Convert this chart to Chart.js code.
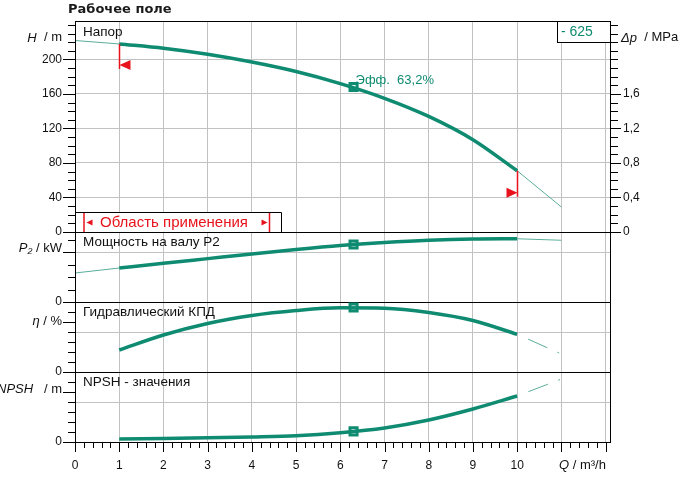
<!DOCTYPE html>
<html>
<head>
<meta charset="utf-8">
<script src="https://cdn.jsdelivr.net/npm/chart.js@4.4.1/dist/chart.umd.min.js"></script>
<style>
  body { margin: 0; background: #fff; }
  canvas { display: block; }
</style>
</head>
<body>
<canvas id="chart" width="684" height="487"></canvas>
<script>
// Pump performance curves, Q in m³/h
const qWork = [1, 2, 3, 4, 5, 6, 7, 8, 9, 10]
const headWork = [218, 213, 206, 197, 186, 172, 155, 134, 107, 71]
const qStart = [0, 1]
const headStart = [222, 218]
const qEnd = [10, 11]
const headEnd = [71, 29]

const powerWork = [2.72, 3.1, 3.47, 3.84, 4.2, 4.52, 4.76, 4.94, 5.04, 5.06]
const powerStart = [2.32, 2.72]
const powerEnd = [5.06, 4.94]

const effWork = [22, 37, 48.5, 56.5, 61.5, 64.2, 63.8, 59.5, 51.5, 37.7]
const effEnd = [37.7, 18]

const npshWork = [0.3, 0.36, 0.42, 0.5, 0.62, 0.92, 1.4, 2.2, 3.3, 4.6]
const npshEnd = [4.6, 6.3]

// best efficiency point
const bepQ = 6.3
const bepHead = 168
const bepPower = 4.6
const bepEff = 64.5
const bepNpsh = 1.06
const bepText = 'Эфф.  63,2%'

const rangeQ = [1, 10]
const pumpTag = '- 625'

const qLabels = [0, 1, 2, 3, 4, 5, 6, 7, 8, 9, 10]
const headLabels = [0, 40, 80, 120, 160, 200]
const dpLabels = [0, 0.4, 0.8, 1.2, 1.6]

const GREEN = '#0f8b71'
const THIN = '#5aae9b'
const RED = '#e8121c'
const GRID = '#c2c2c2'
const FONT = '"Liberation Sans", Arial, sans-serif'

const pts = (xs, ys) => xs.map((x, i) => ({ x: x, y: ys[i] }))
const near = (list, v) => list.some((a) => Math.abs(a - v) < 1e-6)

function makeTicks(max, step) {
  const out = []
  for (let i = 0; i * step <= max + 1e-9; i++) {
    out.push({ value: Math.round(i * step * 1000) / 1000 })
  }
  return out
}

function thick(data, axis) {
  return {
    data: data, yAxisID: axis, borderColor: GREEN, borderWidth: 3.5,
    pointRadius: 0, cubicInterpolationMode: 'monotone', fill: false,
  }
}
function thin(data, axis, dash) {
  return {
    data: data, yAxisID: axis, borderColor: THIN, borderWidth: 1,
    pointRadius: 0, borderDash: dash || [], fill: false,
  }
}
function bep(y, axis) {
  return {
    data: [{ x: bepQ, y: y }], yAxisID: axis, showLine: false,
    pointStyle: 'rect', pointRadius: 5, borderWidth: 3,
    pointBorderColor: GREEN, pointBackgroundColor: '#fff',
  }
}

const brokenDash = [0, 12, 21, 11, 2, 200]

function yAxis(max, step, weight, labelVals, gridVals) {
  return {
    type: 'linear', position: 'left', stack: 'left', stackWeight: weight,
    min: 0, max: max,
    afterFit: (s) => { s.width = 75 },
    afterBuildTicks: (s) => { s.ticks = makeTicks(max, step) },
    border: { color: '#000' },
    grid: {
      drawTicks: false,
      color: (c) => c.tick.value === 0 ? '#000' : (near(gridVals, c.tick.value) ? GRID : 'rgba(0,0,0,0)'),
    },
    ticks: {
      autoSkip: false, padding: 13, color: '#111', font: { family: FONT, size: 12 },
      callback: (v) => near(labelVals, v) ? String(v) : '',
    },
  }
}

// tick marks, unit labels and the other decorations
const decor = {
  id: 'decor',
  afterDraw(chart) {
    const ctx = chart.ctx
    const a = chart.chartArea
    const s = chart.scales
    ctx.save()
    ctx.strokeStyle = '#000'
    ctx.lineWidth = 1

    function tickMarks(scale, longVals, longLen, shortLen, side) {
      scale.ticks.forEach((t) => {
        const len = near(longVals, t.value) ? longLen : shortLen
        const p = Math.round(scale.getPixelForValue(t.value)) + 0.5
        ctx.beginPath()
        if (side === 'left') { ctx.moveTo(scale.right - len, p); ctx.lineTo(scale.right, p) }
        if (side === 'right') { ctx.moveTo(scale.left, p); ctx.lineTo(scale.left + len, p) }
        if (side === 'bottom') { ctx.moveTo(p, scale.top); ctx.lineTo(p, scale.top + len) }
        ctx.stroke()
      })
    }
    tickMarks(s.yH, headLabels, 12, 7, 'left')
    tickMarks(s.yP, [0, 4], 12, 7, 'left')
    tickMarks(s.yE, [0, 50], 12, 7, 'left')
    tickMarks(s.yN, [0, 5], 12, 7, 'left')
    tickMarks(s.yDp, dpLabels, 11, 8, 'right')
    tickMarks(s.x, [0, 1, 2, 3, 4, 5, 6, 7, 8, 9, 10, 11, 12], 10, 6, 'bottom')

    ctx.strokeRect(Math.round(a.left) + 0.5, Math.round(a.top) + 0.5, Math.round(a.right - a.left), Math.round(a.bottom - a.top))

    function mixed(parts, x, y, align) {
      const w = parts.map(([t, it]) => {
        ctx.font = (it ? 'italic ' : '') + '13px ' + FONT
        return ctx.measureText(t).width
      })
      let cx = align === 'right' ? x - w.reduce((m, n) => m + n, 0) : x
      ctx.textAlign = 'left'
      ctx.textBaseline = 'middle'
      ctx.fillStyle = '#111'
      parts.forEach(([t, it], i) => {
        ctx.font = (it ? 'italic ' : '') + '13px ' + FONT
        ctx.fillText(t, cx, y)
        cx += w[i]
      })
    }
    mixed([['H', true], ['  / m', false]], 62, s.yH.getPixelForValue(225), 'right')
    mixed([['Δp', true], ['  / MPa', false]], 621, s.yDp.getPixelForValue(2.25), 'left')
    mixed([['P₂', true], [' / kW', false]], 62, s.yP.getPixelForValue(4.28), 'right')
    mixed([['η', true], [' / %', false]], 62, s.yE.getPixelForValue(51), 'right')
    mixed([['NPSH', true], ['   / m', false]], 62, s.yN.getPixelForValue(5.3), 'right')
    mixed([['Q', true], [' / m³/h', false]], 559, 465, 'left')

    // panel captions
    ctx.font = '13.5px ' + FONT
    ctx.fillStyle = '#111'
    ctx.textBaseline = 'middle'
    ctx.fillText('Напор', a.left + 8, s.yH.top + 11)
    ctx.fillText('Мощность на валу P2', a.left + 8, s.yP.top + 10.5)
    ctx.fillText('Гидравлический КПД', a.left + 8, s.yE.top + 10.5)
    ctx.fillText('NPSH - значения', a.left + 8, s.yN.top + 10.5)

    ctx.font = 'bold 13px "DejaVu Sans", sans-serif'
    ctx.fillStyle = '#1a1a1a'
    ctx.fillText('Рабочее поле', 68, 10)

    // pump tag box
    ctx.fillStyle = '#fff'
    ctx.fillRect(557.5, a.top + 0.5, a.right - 557.5, 21)
    ctx.strokeRect(557.5, Math.round(a.top) + 0.5, Math.round(a.right) - 557, 21)
    ctx.font = '14px ' + FONT
    ctx.fillStyle = GREEN
    ctx.fillText(pumpTag, 561, a.top + 11)

    // BEP caption
    const bx = s.x.getPixelForValue(bepQ)
    const by = s.yH.getPixelForValue(bepHead)
    ctx.font = '13px ' + FONT
    ctx.fillText(bepText, bx + 2, by - 7)

    // operating range markers on the head curve
    ctx.strokeStyle = RED
    ctx.fillStyle = RED
    ctx.lineWidth = 1.5
    const x1 = Math.round(s.x.getPixelForValue(rangeQ[0])) + 0.5
    const y1 = s.yH.getPixelForValue(headWork[0])
    ctx.beginPath(); ctx.moveTo(x1, y1); ctx.lineTo(x1, y1 + 25); ctx.stroke()
    ctx.beginPath(); ctx.moveTo(x1, y1 + 21); ctx.lineTo(x1 + 11, y1 + 16); ctx.lineTo(x1 + 11, y1 + 26); ctx.closePath(); ctx.fill()
    const x2 = Math.round(s.x.getPixelForValue(rangeQ[1])) + 0.5
    const y2 = s.yH.getPixelForValue(headWork[headWork.length - 1])
    ctx.beginPath(); ctx.moveTo(x2, y2); ctx.lineTo(x2, y2 + 26); ctx.stroke()
    ctx.beginPath(); ctx.moveTo(x2, y2 + 22); ctx.lineTo(x2 - 11, y2 + 17); ctx.lineTo(x2 - 11, y2 + 27); ctx.closePath(); ctx.fill()

    // "Область применения" legend box
    const bt = Math.round(s.yH.bottom) - 20
    ctx.fillStyle = '#fff'
    ctx.fillRect(a.left + 1, bt, 205, 20)
    ctx.strokeStyle = '#000'
    ctx.lineWidth = 1
    ctx.beginPath()
    ctx.moveTo(a.left, bt + 0.5); ctx.lineTo(281.5, bt + 0.5); ctx.lineTo(281.5, s.yH.bottom)
    ctx.stroke()
    ctx.strokeStyle = RED
    ctx.fillStyle = RED
    ctx.lineWidth = 1.5
    ctx.beginPath(); ctx.moveTo(84, bt + 1); ctx.lineTo(84, bt + 20); ctx.stroke()
    ctx.beginPath(); ctx.moveTo(269.5, bt + 1); ctx.lineTo(269.5, bt + 20); ctx.stroke()
    ctx.beginPath(); ctx.moveTo(86.5, bt + 10.5); ctx.lineTo(92.5, bt + 7.5); ctx.lineTo(92.5, bt + 13.5); ctx.closePath(); ctx.fill()
    ctx.beginPath(); ctx.moveTo(267.5, bt + 10.5); ctx.lineTo(261.5, bt + 7.5); ctx.lineTo(261.5, bt + 13.5); ctx.closePath(); ctx.fill()
    ctx.font = '15px ' + FONT
    ctx.textBaseline = 'middle'
    ctx.fillText('Область применения', 100, bt + 11)
    ctx.restore()
  },
}

new Chart(document.getElementById('chart'), {
  type: 'line',
  data: {
    datasets: [
      thin(pts(qStart, headStart), 'yH'),
      thin(pts(qEnd, headEnd), 'yH'),
      thick(pts(qWork, headWork), 'yH'),
      thin(pts(qStart, powerStart), 'yP'),
      thin(pts(qEnd, powerEnd), 'yP'),
      thick(pts(qWork, powerWork), 'yP'),
      thin(pts(qEnd, effEnd), 'yE', brokenDash),
      thick(pts(qWork, effWork), 'yE'),
      thin(pts(qEnd, npshEnd), 'yN', brokenDash),
      thick(pts(qWork, npshWork), 'yN'),
      bep(bepHead, 'yH'),
      bep(bepPower, 'yP'),
      bep(bepEff, 'yE'),
      bep(bepNpsh, 'yN'),
    ],
  },
  options: {
    responsive: false,
    animation: false,
    devicePixelRatio: 1,
    layout: { padding: { top: 21, left: 0, right: 0, bottom: 0 } },
    plugins: { legend: { display: false }, tooltip: { enabled: false } },
    scales: {
      x: {
        type: 'linear', position: 'bottom', min: 0, max: 12.1,
        afterFit: (s) => { s.height = 45 },
        afterBuildTicks: (s) => { s.ticks = makeTicks(12, 0.2) },
        border: { color: '#000' },
        grid: {
          drawTicks: false,
          color: (c) => (c.tick.value > 0 && Number.isInteger(c.tick.value)) ? GRID : 'rgba(0,0,0,0)',
        },
        ticks: {
          autoSkip: false, maxRotation: 0, padding: 16, color: '#111',
          font: { family: FONT, size: 12 },
          callback: (v) => near(qLabels, v) ? String(v) : '',
        },
      },
      yN: yAxis(7, 1, 70, [0], [4]),
      yE: yAxis(70, 10, 70, [0], [40]),
      yP: yAxis(5.6, 1, 70, [0], [4]),
      yH: yAxis(244.6, 10, 211, headLabels, [40, 80, 120, 160, 200]),
      yDp: {
        type: 'linear', position: 'right', stack: 'right', stackWeight: 211,
        min: 0, max: 2.446,
        afterFit: (s) => { s.width = 74 },
        afterBuildTicks: (s) => { s.ticks = makeTicks(2.4, 0.1) },
        border: { color: '#000' },
        grid: { drawTicks: false, drawOnChartArea: false },
        ticks: {
          autoSkip: false, padding: 13, color: '#111', font: { family: FONT, size: 12 },
          callback: (v) => near(dpLabels, v) ? String(v).replace('.', ',') : '',
        },
      },
      yPad: {
        type: 'linear', position: 'right', stack: 'right', stackWeight: 210,
        display: false, min: 0, max: 1,
      },
    },
  },
  plugins: [decor],
})
</script>
</body>
</html>
